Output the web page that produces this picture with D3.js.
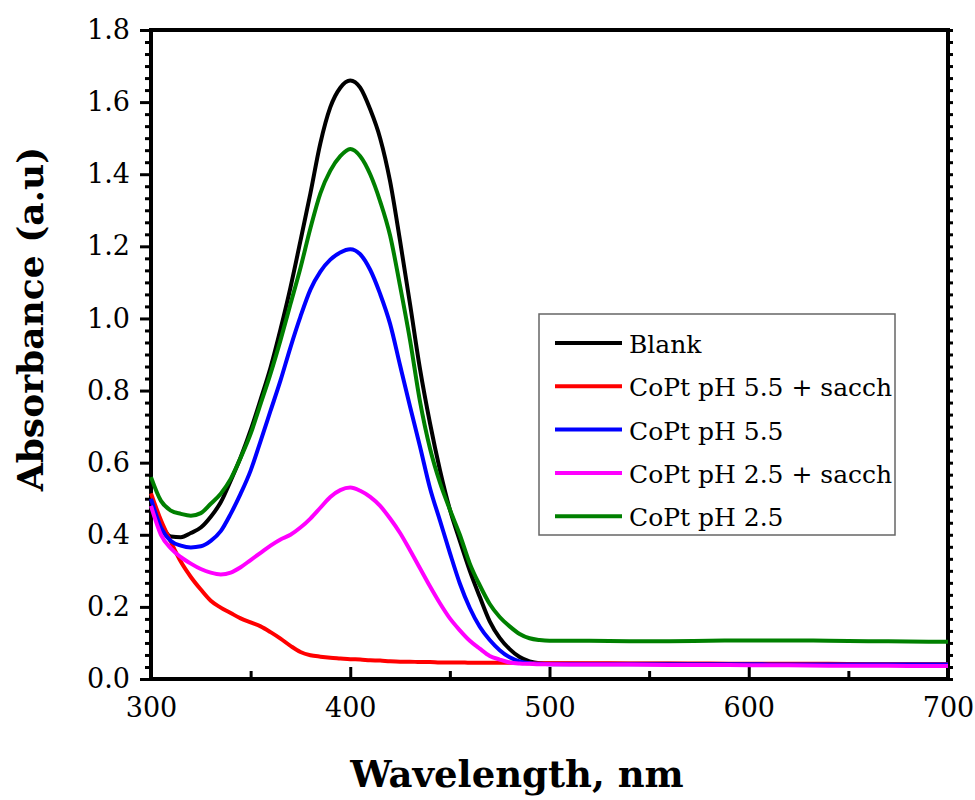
<!DOCTYPE html>
<html><head><meta charset="utf-8">
<script src="https://cdn.jsdelivr.net/npm/d3@7"></script>
<style>body{margin:0;background:#fff} svg{display:block}</style>
</head><body>
<svg id="c" width="975" height="800"></svg>
<script>
const wavelength = [300,305,310,315,320,325,330,335,340,345,350,355,360,365,370,375,380,385,390,395,400,405,410,415,420,425,430,435,440,445,450,455,460,465,470,475,480,485,490,495,500,520,540,560,580,600,620,640,660,680,700];
const blank = [.50,.43,.395,.393,.405,.42,.45,.49,.55,.615, .69,.775,.864,.97,1.086,1.215,1.347,1.486,1.586,1.64, 1.66,1.64,1.58,1.50,1.38,1.215,1.04,.86,.71,.58, .47,.383,.30,.228,.16,.114,.083,.061,.049,.044, .043, .042,.042,.042,.041,.041,.041,.040,.040,.040,.040];
const copt55sacch = [.515,.44,.38,.325,.283,.248,.217,.198,.183,.168, .157,.146,.13,.112,.092,.075,.066,.062,.059,.057, .055,.054,.052,.051,.049,.048,.048,.047,.047,.046, .046,.046,.045,.045,.045,.045,.045,.045,.044,.044, .044, .044,.043,.043,.043,.042,.042,.042,.041,.041,.041];
const copt55 = [.50,.42,.383,.37,.365,.368,.383,.41,.458,.514, .578,.66,.744,.828,.92,1.005,1.08,1.13,1.163,1.183, 1.192,1.178,1.135,1.068,.985,.87,.756,.645,.53,.44, .35,.265,.197,.145,.108,.08,.06,.049,.044,.042, .041, .041,.041,.041,.041,.041,.040,.040,.040,.040,.040];
const copt25sacch = [.48,.40,.362,.338,.32,.305,.295,.29,.295,.31, .33,.35,.37,.387,.40,.42,.445,.475,.505,.524, .531,.522,.505,.48,.445,.405,.357,.307,.257,.21, .168,.135,.106,.084,.064,.054,.046,.043,.042,.041, .041, .040,.040,.039,.039,.038,.038,.037,.037,.036,.036];
const copt25 = [.56,.494,.467,.458,.453,.46,.486,.514,.555,.614, .68,.763,.847,.94,1.04,1.14,1.25,1.347,1.41,1.45, 1.47,1.45,1.40,1.325,1.23,1.09,.94,.77,.64,.545, .47,.40,.32,.26,.208,.172,.146,.125,.113,.108, .106, .106,.105,.105,.106,.107,.107,.106,.105,.104,.103];
const seriesNames = ["Blank","CoPt pH 5.5 + sacch","CoPt pH 5.5","CoPt pH 2.5 + sacch","CoPt pH 2.5"];
const seriesValues = [blank, copt55sacch, copt55, copt25sacch, copt25];
const seriesColors = ["#000000","#ff0000","#0000ff","#ff00ff","#008000"];
const xTicks = [300,400,500,600,700];
const xMinor = [350,450,550,650];
const yTicks = [0,0.2,0.4,0.6,0.8,1.0,1.2,1.4,1.6,1.8];
const xLabel = "Wavelength, nm";
const yLabel = "Absorbance (a.u)";

const svg = d3.select("#c");
const F = "'DejaVu Serif', serif";
const x = d3.scaleLinear().domain([300,700]).range([151,948]);
const y = d3.scaleLinear().domain([0,1.8]).range([679,30]);
const yMinorVals = [];
for (let i=0;i<=54;i++){ if(i%6!==0) yMinorVals.push(i*1.8/54); }

function style(g){ g.select(".domain").remove(); g.selectAll("line").attr("stroke","#000").attr("stroke-width",3); }

// left axis
svg.append("g").attr("transform","translate(151,0)")
  .call(d3.axisLeft(y).tickValues(yMinorVals).tickSize(6).tickFormat(""))
  .call(style);
svg.append("g").attr("transform","translate(151,0)")
  .call(d3.axisLeft(y).tickValues(yTicks).tickSize(11).tickPadding(10).tickFormat(d3.format(".1f")))
  .call(style)
  .call(g=>g.selectAll("text").attr("font-family",F).attr("font-size",27).attr("fill","#000"));
// right axis
svg.append("g").attr("transform","translate(948,0)")
  .call(d3.axisRight(y).tickValues(yTicks.concat(yMinorVals)).tickSize(5).tickFormat(""))
  .call(style);
// bottom axis
svg.append("g").attr("transform","translate(0,679)")
  .call(d3.axisBottom(x).tickValues(xMinor).tickSize(-8).tickFormat(""))
  .call(style);
svg.append("g").attr("transform","translate(0,679)")
  .call(d3.axisBottom(x).tickValues(xTicks).tickSize(-12).tickPadding(19).tickFormat(d3.format("d")))
  .call(style)
  .call(g=>g.selectAll("text").attr("font-family",F).attr("font-size",27).attr("fill","#000"));

// frame
svg.append("rect").attr("x",151).attr("y",30).attr("width",797).attr("height",649)
  .attr("fill","none").attr("stroke","#000").attr("stroke-width",4);

// lines
const line = d3.line().curve(d3.curveMonotoneX);
seriesValues.forEach((vals,i)=>{
  svg.append("path")
    .attr("d", line(wavelength.map((w,j)=>[x(w), y(vals[j])])))
    .attr("fill","none").attr("stroke",seriesColors[i]).attr("stroke-width",4)
    .attr("stroke-linejoin","round");
});

// legend
const lg = svg.append("g");
lg.append("rect").attr("x",539).attr("y",314).attr("width",356).attr("height",221)
  .attr("fill","#fff").attr("stroke","#666").attr("stroke-width",1.5);
seriesNames.forEach((n,i)=>{
  const yy = 343 + i*43.3;
  lg.append("line").attr("x1",555).attr("x2",622).attr("y1",yy).attr("y2",yy)
    .attr("stroke",seriesColors[i]).attr("stroke-width",4);
  lg.append("text").attr("x",629).attr("y",yy+10).text(n)
    .attr("font-family",F).attr("font-size",25).attr("fill","#000");
});

// axis titles
svg.append("text").attr("x",517).attr("y",787).attr("text-anchor","middle")
  .attr("font-family",F).attr("font-weight","bold").attr("font-size",37).text(xLabel);
svg.append("text").attr("transform","translate(43,319) rotate(-90)").attr("text-anchor","middle")
  .attr("font-family",F).attr("font-weight","bold").attr("font-size",36).text(yLabel);
</script>
</body></html>
